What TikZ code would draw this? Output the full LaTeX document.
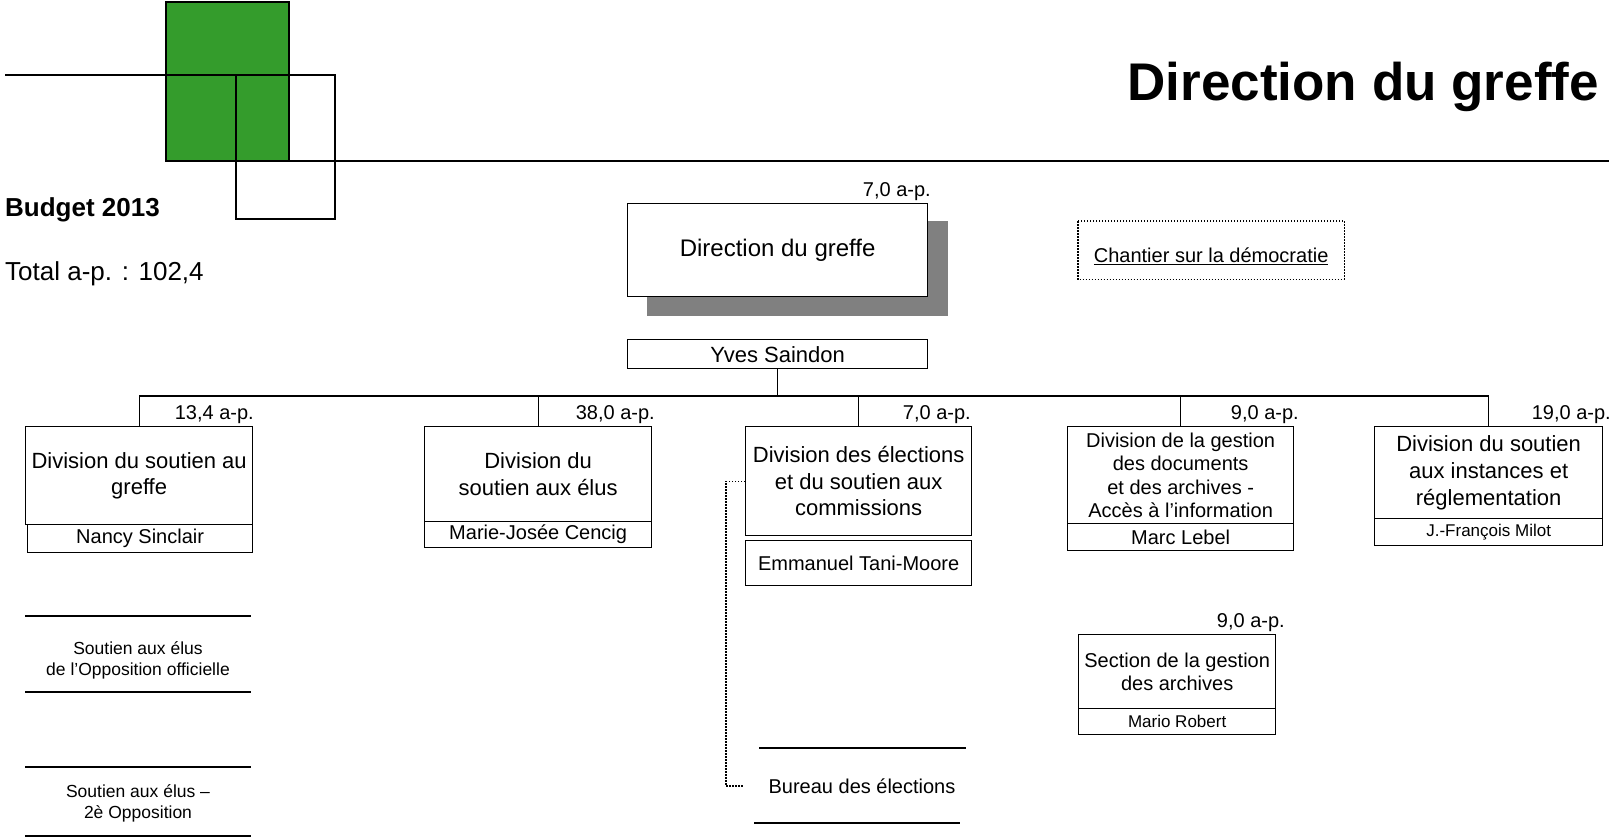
\documentclass[tikz,border=0pt]{standalone}
\usepackage{fontspec}
\setmainfont{Liberation Sans}
\usetikzlibrary{calc}
\definecolor{logogreen}{RGB}{52,156,44}
\definecolor{shadowgray}{RGB}{128,128,128}
\tikzset{
  ln/.style={line width=1.3pt},
  box/.style={draw, line width=1.3pt, fill=white, inner sep=0pt, align=center, anchor=north west},
  ttl/.style={font=\fontsize{22}{26.5}\selectfont},
  ttlsm/.style={font=\fontsize{20}{23.5}\selectfont},
  nm/.style={font=\fontsize{20}{24}\selectfont},
  nmsm/.style={font=\fontsize{17}{20}\selectfont},
  lbl/.style={font=\fontsize{20}{24}\selectfont, inner sep=0pt, anchor=base east},
  sm/.style={font=\fontsize{17.5}{21}\selectfont, inner sep=0pt, align=center},
  dotline/.style={line width=1.1pt, dash pattern=on 1.5pt off 1.5pt},
}
\begin{document}
\begin{tikzpicture}[x=1pt,y=-1pt]
\useasboundingbox (0,0) rectangle (1612,839);
% logo
\fill[logogreen] (166,2) rectangle (289,161);
\draw[ln] (166,2) rectangle (289,161);
\draw[ln] (5,75) -- (236,75);
\draw[ln] (236,75) rectangle (335,219);
\draw[ln] (228,161) -- (1609,161);
\node[font=\bfseries\fontsize{53}{60}\selectfont, anchor=base east, inner sep=0pt] (title) at (1599,100) {Direction du greffe};
\node[font=\bfseries\fontsize{26}{30}\selectfont, anchor=base west, inner sep=0pt] (budget) at (5,216) {Budget 2013};
\node[font=\fontsize{26}{30}\selectfont, anchor=base west, inner sep=0pt] (total) at (5,280) {Total a-p. : 102,4};
% director
\fill[shadowgray] (647,221) rectangle (948,316);
\node[box, minimum width=300pt, minimum height=93pt, font=\fontsize{24}{28}\selectfont] (dir) at (627,203) {Direction du greffe};
\node[lbl] (ldir) at (931,196) {7,0 a-p.};
\node[box, minimum width=300pt, minimum height=29pt, font=\fontsize{22}{26}\selectfont] (yves) at (627,339) {Yves Saindon};
\node[box, draw=none, fill=none, minimum width=265pt, minimum height=57pt] (chantier) at (1078,221) {};
\draw[dotline] (chantier.north west) rectangle (chantier.south east);
\node[nm, inner sep=0pt, anchor=base] (chtext) at ([yshift=-12pt]chantier.center) {\underline{Chantier sur la démocratie}};
% divisions
\node[box, ttl, minimum width=227pt, minimum height=98pt] (b1) at (25,426) {Division du soutien au\\greffe};
\node[box, nm, minimum width=225pt, minimum height=28pt] (n1) at (27,524) {Nancy Sinclair};
\node[box, ttl, minimum width=227pt, minimum height=95pt] (b2) at (424,426) {Division du\\soutien aux élus};
\node[box, nm, minimum width=227pt, minimum height=26pt] (n2) at (424,521) {Marie-Josée Cencig};
\node[box, ttl, minimum width=226pt, minimum height=109pt] (b3) at (745,426) {Division des élections\\et du soutien aux\\commissions};
\node[box, nm, minimum width=226pt, minimum height=45pt] (n3) at (745,540) {Emmanuel Tani-Moore};
\node[box, ttlsm, minimum width=226pt, minimum height=97pt] (b4) at (1067,426) {Division de la gestion\\des documents\\et des archives -\\Accès à l’information};
\node[box, nm, minimum width=226pt, minimum height=27pt] (n4) at (1067,523) {Marc Lebel};
\node[box, font=\fontsize{22}{27}\selectfont, minimum width=228pt, minimum height=92pt] (b5) at (1374,426) {Division du soutien\\aux instances et\\réglementation};
\node[box, nmsm, minimum width=228pt, minimum height=27pt] (n5) at (1374,518) {J.-François Milot};
\node[box, ttlsm, minimum width=197pt, minimum height=74pt] (sec) at (1078,634) {Section de la gestion\\des archives};
\node[box, nmsm, minimum width=197pt, minimum height=26pt] (ns) at (1078,708) {Mario Robert};
% labels
\node[lbl] (l1) at (254,419) {13,4 a-p.};
\node[lbl] (l2) at (655,419) {38,0 a-p.};
\node[lbl] (l3) at (971,419) {7,0 a-p.};
\node[lbl] (l4) at (1299,419) {9,0 a-p.};
\node[lbl] (l5) at (1611,419) {19,0 a-p.};
\node[lbl] (ls) at (1285,627) {9,0 a-p.};
% bus
\coordinate (bus) at (0,396);
\draw[ln] (yves.south) -- (yves.south |- bus);
\draw[ln] (b1.north) -- (b1.north |- bus) -- (b5.north |- bus) -- (b5.north);
\draw[ln] (b2.north) -- (b2.north |- bus);
\draw[ln] (b3.north) -- (b3.north |- bus);
\draw[ln] (b4.north) -- (b4.north |- bus);
% left groups
\draw[ln] (25,616) -- (251,616);
\node[sm] (t1) at (138,660) {Soutien aux élus\\de l’Opposition officielle};
\draw[ln] (25,692) -- (251,692);
\draw[ln] (25,767) -- (251,767);
\node[sm] (t2) at (138,803) {Soutien aux élus –\\2è Opposition};
\draw[ln] (25,836) -- (251,836);
% bureau
\draw[ln] (759,748) -- (966,748);
\node[nm, inner sep=0pt] (bureau) at (862,786) {Bureau des élections};
\draw[ln] (754,823) -- (960,823);
\coordinate (dcorner) at (726,786);
\coordinate (dend) at (743,786);
\draw[dotline] (b3.west) -| (dcorner) -- (dend);
\end{tikzpicture}
\end{document}
